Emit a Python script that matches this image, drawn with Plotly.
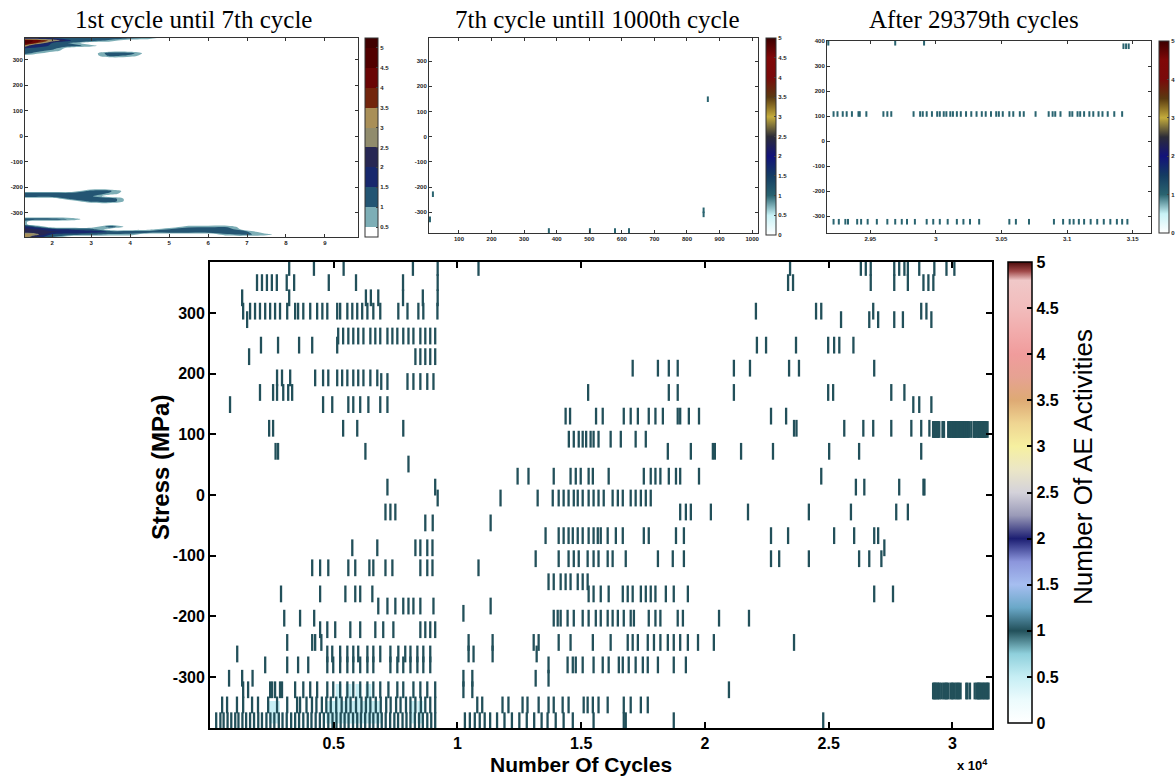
import plotly.graph_objects as go

W, H = 1176, 780

# ---------------- main chart: stress rows (MPa) and AE hit positions (thousand cycles) ----------------
main_stress = [375, 350, 325, 303, 289, 262, 247, 228, 209, 193, 187, 169, 149, 130, 110, 92, 72, 51, 31, 13,
               -5, -28, -46, -67, -87, -105, -120, -143, -163, -183, -195, -203, -222, -243, -262, -280,
               -302, -321, -346, -372]
main_cycles_k = [
    [3.2, 4.2, 5.4, 8.2, 9.2, 10.85, 23.44, 26.3, 26.5, 26.7, 27.65, 27.85, 28.06, 28.2, 28.66, 29.27, 29.76, 30.08],
    [1.9, 2.1, 2.3, 2.5, 2.7, 3.1, 3.4, 4.8, 5.9, 7.8, 9.2, 23.36, 23.56, 26.7, 27.65, 28.2, 28.83, 29.03, 29.23],
    [1.3, 3.2, 6.3, 6.5, 6.8, 7.8, 8.6, 9.2],
    [1.34, 1.62, 1.82, 2.02, 2.23, 2.43, 2.63, 2.83, 3.12, 3.44, 3.56, 3.77, 4.05, 4.33, 4.54, 4.74, 5.14, 5.26,
     5.55, 5.75, 5.95, 6.15, 6.36, 6.6, 6.88, 7.61, 7.98, 8.42, 8.62, 9.19, 22.06, 24.49, 24.7, 26.8, 28.74, 28.95],
    [1.5, 25.5, 26.64, 27.0, 27.65, 28.0, 29.15],
    [5.18, 5.38, 5.59, 5.79, 5.99, 6.2, 6.48, 6.68, 6.88, 7.17, 7.37, 7.57, 7.81, 8.02, 8.22, 8.5, 8.7, 8.9, 9.1],
    [2.06, 2.75, 3.6, 4.13, 5.14, 22.1, 22.47, 23.68, 24.98, 25.22, 25.43, 26.0],
    [1.58, 8.3, 8.5, 8.7, 8.9, 9.1],
    [17.08, 18.1, 18.54, 18.9, 21.17, 21.82, 23.4, 23.8, 26.84],
    [2.71, 2.91, 3.24, 4.25, 4.57, 4.78, 5.14, 5.34, 5.55, 5.79, 5.99, 6.2, 6.48, 6.76],
    [6.92, 7.17, 7.98, 8.22, 8.5, 8.78, 9.03],
    [2.02, 2.55, 2.71, 2.96, 3.16, 3.32, 15.28, 18.54, 18.9, 21.17, 24.98, 25.18, 27.53, 28.06],
    [0.81, 4.57, 4.94, 5.59, 5.79, 6.07, 6.4, 6.88, 7.17, 28.42, 28.66, 29.15],
    [14.37, 14.55, 15.6, 15.87, 16.72, 17.0, 17.29, 17.73, 18.0, 18.3, 18.9, 19.0, 19.35, 19.76, 22.67, 23.28],
    [2.39, 2.55, 5.38, 5.95, 7.81, 23.6, 23.7, 25.63, 26.4, 26.8, 27.53, 28.34, 28.74, 29.07],
    [14.5, 14.7, 14.9, 15.06, 15.2, 15.38, 15.5, 15.7, 16.19, 16.6, 17.2, 17.61],
    [2.65, 2.75, 6.28, 18.5, 19.43, 20.32, 20.4, 21.46, 22.75, 25.02, 26.23, 28.74],
    [8.02],
    [12.43, 12.87, 13.89, 14.57, 14.78, 14.98, 15.3, 15.47, 16.11, 17.53, 17.81, 18.0, 18.2, 18.54, 18.83, 19.0,
     19.76, 24.7],
    [7.17, 9.1, 26.1, 26.44, 27.85, 28.83, 28.87],
    [9.2, 11.74, 13.24, 13.85, 14.09, 14.29, 14.49, 14.7, 14.86, 15.06, 15.3, 15.5, 15.7, 15.91, 16.27, 16.48,
     16.68, 17.0, 17.2, 17.41, 17.61, 17.81],
    [7.09, 7.29, 7.49, 19.0, 19.23, 19.43, 20.24, 21.74, 24.2, 25.9, 27.73, 28.2],
    [8.7, 9.0, 11.34],
    [13.56, 14.09, 14.29, 14.49, 14.66, 14.86, 15.06, 15.3, 15.5, 15.67, 15.79, 16.07, 16.4, 16.68, 17.53, 17.73,
     18.83, 19.15, 22.67, 23.36, 25.22, 26.03, 26.84, 27.0],
    [5.75, 6.76, 8.3, 8.5, 8.78, 8.99, 27.25],
    [13.16, 14.09, 14.49, 14.7, 14.9, 15.26, 15.5, 15.7, 16.07, 16.27, 16.8, 18.1, 18.7, 19.15, 22.67, 23.0, 24.2,
     26.23, 26.64, 27.13],
    [4.13, 4.45, 4.78, 5.59, 5.87, 6.44, 6.6, 7.09, 7.37, 8.5, 8.78, 8.99, 10.85],
    [13.68, 13.89, 14.17, 14.37, 14.57, 14.86, 15.06, 15.26],
    [2.87, 4.45, 5.47, 5.87, 6.07, 6.56, 15.3, 15.5, 15.79, 16.11, 16.68, 16.88, 17.08, 17.41, 17.61, 17.81, 18.0,
     18.42, 18.74, 19.31, 26.84, 27.6],
    [6.8, 7.17, 7.49, 7.81, 8.02, 8.22, 8.5, 9.03, 11.34],
    [10.24],
    [3.0, 3.64, 4.21, 13.89, 14.05, 14.17, 14.45, 14.7, 15.06, 15.3, 15.59, 15.79, 16.07, 16.27, 16.48, 16.72,
     17.0, 17.13, 17.73, 18.0, 18.2, 18.9, 19.11, 20.57, 21.78],
    [4.45, 4.74, 5.06, 5.67, 6.07, 6.68, 7.0, 7.41, 8.5, 8.7, 8.9, 9.1],
    [3.12, 4.13, 4.25, 4.5, 10.45, 11.42, 13.08, 13.28, 14.09, 14.57, 15.47, 16.19, 16.88, 17.08, 17.29, 17.69,
     17.94, 18.2, 18.5, 18.74, 19.0, 19.31, 19.72, 20.36, 23.6],
    [1.1, 4.74, 4.94, 5.26, 5.55, 5.79, 5.99, 6.36, 6.6, 6.88, 7.29, 7.61, 7.89, 8.1, 8.38, 8.62, 8.9, 10.45,
     10.65, 11.42, 13.2],
    [2.23, 3.12, 3.56, 3.97, 4.74, 4.98, 5.26, 5.55, 5.79, 6.07, 6.36, 6.6, 7.29, 7.57, 7.81, 8.1, 8.38, 8.62,
     8.9, 13.68, 14.45, 14.66, 14.78, 15.06, 15.5, 15.87, 16.11, 16.52, 16.68, 16.92, 17.2, 17.49, 17.69, 18.1,
     18.74, 19.23],
    [0.77, 1.3, 1.72, 10.24, 10.6, 13.16, 13.68],
    [1.34, 1.54, 2.43, 2.51, 2.63, 2.83, 2.91, 3.44, 3.77, 4.05, 4.33, 4.74, 4.98, 5.26, 5.55, 5.79, 6.07, 6.36,
     6.6, 6.88, 7.21, 7.57, 7.81, 8.22, 8.5, 8.78, 9.1, 10.24, 10.6, 20.97],
    [0.49, 0.69, 1.09, 1.34, 1.7, 1.94, 2.35, 2.71, 3.12, 3.52, 3.64, 3.9, 4.12, 4.3, 4.52, 4.7, 4.88, 5.1, 5.32,
     5.5, 5.68, 5.9, 6.12, 6.3, 6.48, 6.7, 6.9, 7.12, 7.3, 7.52, 7.7, 7.92, 8.1, 8.3, 8.52, 8.7, 8.9, 9.1, 10.8,
     11.0, 11.82, 12.06, 12.63, 12.83, 13.28, 13.68, 13.89, 14.25, 14.49, 15.1, 15.26, 15.47, 15.7, 16.07, 16.72,
     17.0, 17.41, 17.69],
    [0.25, 0.42, 0.55, 0.71, 0.86, 1.02, 1.15, 1.31, 1.46, 1.62, 1.78, 1.95, 2.1, 2.28, 2.44, 2.6, 2.78, 2.93,
     3.1, 3.28, 3.44, 3.6, 3.77, 3.95, 4.1, 4.27, 4.44, 4.6, 4.78, 4.95, 5.11, 5.28, 5.44, 5.6, 5.78, 5.95, 6.1,
     6.27, 6.45, 6.6, 6.78, 6.94, 7.1, 7.28, 7.45, 7.6, 7.78, 7.94, 8.1, 8.28, 8.45, 8.6, 8.78, 8.94, 9.1, 10.3,
     10.5, 10.7, 10.9, 11.1, 11.32, 11.6, 11.9, 12.2, 12.5, 12.8, 13.1, 13.4, 13.64, 13.97, 14.29, 14.66, 15.5,
     16.72, 16.8, 18.74, 24.78],
]
main_count = 1.0

# light (low count) regions in the dense low-stress zone
glow_stress = [-330, -358]
glow_cycles_k = [
    [5.2, 5.6, 6.0, 6.4],
    [2.5, 2.7, 4.8, 5.0, 5.2, 5.4, 5.6, 5.8, 6.0, 6.2, 6.4, 6.6, 6.8, 8.2, 8.5],
]
glow_count = 0.5

# ---------------- top right: after 29379th cycles (x in 1e4 cycles) ----------------
tr_row_stress = [108, -323]
tr_row_cycles_e4 = [
    [2.922, 2.925, 2.929, 2.932, 2.936, 2.941, 2.942, 2.947, 2.960, 2.963, 2.966, 2.983, 2.988, 2.990, 2.993,
     2.997, 3.001, 3.003, 3.006, 3.008, 3.011, 3.013, 3.016, 3.019, 3.023, 3.027, 3.031, 3.035, 3.038, 3.042,
     3.046, 3.048, 3.051, 3.056, 3.059, 3.064, 3.067, 3.076, 3.086, 3.089, 3.091, 3.095, 3.102, 3.104, 3.108,
     3.110, 3.113, 3.117, 3.120, 3.124, 3.127, 3.131, 3.136, 3.142],
    [2.922, 2.926, 2.931, 2.933, 2.940, 2.943, 2.948, 2.955, 2.963, 2.969, 2.974, 2.978, 2.984, 2.993, 2.998,
     3.003, 3.009, 3.016, 3.021, 3.026, 3.033, 3.056, 3.061, 3.071, 3.090, 3.097, 3.102, 3.105, 3.109, 3.113,
     3.118, 3.123, 3.128, 3.133, 3.138, 3.142, 3.146],
]
tr_top_cycles_e4 = [2.918, 2.969, 2.991, 3.143, 3.145, 3.147]
tr_top_stress = [393, 393, 393, 379, 379, 379]

# ---------------- top middle: 7th until 1000th cycle ----------------
tm_cycles = [11, 20, 851, 851, 864, 376, 502, 579, 622]
tm_stress = [-328, -228, -292, -308, 149, -374, -374, -374, -374]

# ---------------- top left: 1st until 7th cycle (gridded AE counts) ----------------
tl_cycles = [1.3, 1.5, 2, 2.5, 3, 3.5, 4, 4.5, 5, 5.5, 6, 6.5, 7, 7.5, 8, 9, 9.85]
tl_stress = [-395, -385, -375, -365, -355, -345, -335, -325, -315, -265, -255, -245, -235, -225, -215, -205,
             305, 315, 325, 335, 345, 355, 365, 375, 385]
tl_cell_stress = ([385] * 8 + [375] * 6 + [365] * 4 + [355] * 5 + [345] * 3 + [335] * 3 + [325] * 4 + [315] * 2
                  + [-215] * 2 + [-225] * 6 + [-235] * 5 + [-245] * 3 + [-255] * 2
                  + [-325] * 4 + [-335] + [-345] + [-355] * 6 + [-365] * 10 + [-375] * 13 + [-385] * 10 + [-395] * 3)
tl_cell_cycles = [1.3, 1.5, 2, 2.5, 3, 3.5, 4, 4.5,
                  1.3, 1.5, 2, 2.5, 3, 3.5,
                  1.3, 1.5, 2, 2.5,
                  1.3, 1.5, 2, 2.5, 3,
                  1.3, 1.5, 2,
                  1.3, 1.5, 2,
                  1.3, 1.5, 3.5, 4,
                  3.5, 4,
                  3, 3.5,
                  1.3, 1.5, 2, 2.5, 3, 3.5,
                  1.3, 1.5, 2, 2.5, 3,
                  2.5, 3, 3.5,
                  3, 3.5,
                  1.3, 1.5, 2, 2.5,
                  1.3,
                  1.3,
                  1.3, 1.5, 3.5, 5.5, 6, 6.5,
                  1.3, 1.5, 2, 2.5, 3, 4.5, 5, 5.5, 6, 6.5,
                  1.3, 1.5, 2, 2.5, 3, 3.5, 4, 4.5, 5, 5.5, 6, 6.5, 7,
                  1.3, 1.5, 2, 2.5, 3, 3.5, 4, 6.5, 7, 7.5,
                  1.3, 1.5, 2]
tl_cell_count = [1.45, 1.45, 1.45, 1.45, 1.45, 1.4, 1.3, 0.8,
                 4.8, 4.6, 3.2, 1.45, 1.3, 0.8,
                 4.8, 4.2, 1.45, 0.9,
                 3.2, 1.7, 1.45, 1.3, 0.7,
                 1.45, 1.45, 1.3,
                 1.3, 1.3, 0.8,
                 1.3, 0.9, 1.45, 1.3,
                 1.2, 0.8,
                 1.3, 1.1,
                 1.45, 1.45, 1.45, 1.45, 1.45, 0.8,
                 1.45, 1.45, 1.45, 1.45, 1.1,
                 1.3, 1.45, 1.45,
                 1.3, 1.45,
                 1.45, 1.45, 1.3, 0.9,
                 0.7,
                 0.7,
                 1.7, 1.45, 1.45, 0.8, 0.9, 0.9,
                 2.2, 2.1, 1.7, 1.45, 1.3, 0.3, 1.0, 1.45, 1.45, 1.45,
                 2.1, 2.1, 2.1, 1.9, 1.7, 1.45, 1.45, 1.45, 1.45, 1.45, 1.45, 1.45, 1.1,
                 3.2, 3.0, 1.45, 1.3, 1.1, 0.9, 0.8, 0.9, 1.1, 0.7,
                 3.2, 2.1, 1.0]

cbar_ticks = [0, 0.5, 1, 1.5, 2, 2.5, 3, 3.5, 4, 4.5, 5]
cbar_labels = ["0", "0.5", "1", "1.5", "2", "2.5", "3", "3.5", "4", "4.5", "5"]
main_xticks = [5000, 10000, 15000, 20000, 25000, 30000]
main_xlabels = ["0.5", "1", "1.5", "2", "2.5", "3"]
stress_ticks = [-300, -200, -100, 0, 100, 200, 300]
stress_labels = ["-300", "-200", "-100", "0", "100", "200", "300"]

# ---------------- colour scales ----------------
main_scale = [[0, '#ffffff'], [0.05, '#ecfbfd'], [0.1, '#c6eef4'], [0.15, '#8fd0dc'], [0.2, '#22505a'],
              [0.25, '#6aa8c8'], [0.3, '#a6bef0'], [0.35, '#8c96dc'], [0.4, '#1c1e72'], [0.45, '#9a9ab8'],
              [0.5, '#d4d2da'], [0.55, '#ebe6c6'], [0.6, '#f6f0a0'], [0.65, '#efd592'], [0.7, '#deaa74'],
              [0.75, '#e6a292'], [0.8, '#f09c9c'], [0.85, '#f2acac'], [0.9, '#f2bcbc'], [0.96, '#f0c8c8'],
              [0.98, '#a04848'], [1, '#4a0a0a']]
top_scale = [[0, '#ffffff'], [0.1, '#c8f2f6'], [0.2, '#2a6470'], [0.3, '#143c62'], [0.4, '#12127a'],
             [0.5, '#2c2c38'], [0.6, '#c4ac3c'], [0.7, '#5a3a10'], [0.8, '#7a0a0a'], [0.9, '#800808'],
             [1, '#3c0000']]
tl_band_scale = [[0, '#ffffff'], [0.05, '#cdeef2'], [0.15, '#2c6e7a'], [0.25, '#1a3c6c'], [0.35, '#14146e'],
                 [0.45, '#3a3a3a'], [0.55, '#e8dea0'], [0.65, '#6a4010'], [0.75, '#7a0a0a'], [0.85, '#5a0000'],
                 [1, '#400000']]

# ---------------- figure ----------------
fig = go.Figure()

gx, gy = [], []
for s, row in zip(glow_stress, glow_cycles_k):
    for c in row:
        gx.append(c * 1000)
        gy.append(s)
fig.add_trace(go.Scatter(x=gx, y=gy, mode='markers', hoverinfo='skip', showlegend=False,
                         marker=dict(symbol='line-ns-open', size=16, line=dict(width=6),
                                     color=[glow_count] * len(gx), coloraxis='coloraxis')))

mx, my = [], []
for s, row in zip(main_stress, main_cycles_k):
    for c in row:
        mx.append(c * 1000)
        my.append(s)
for s, row in zip(tr_row_stress, tr_row_cycles_e4):
    for c in row:
        mx.append(c * 10000)
        my.append(s)
fig.add_trace(go.Scatter(x=mx, y=my, mode='markers', showlegend=False,
                         marker=dict(symbol='line-ns-open', size=12, line=dict(width=2.3),
                                     color=[main_count] * len(mx), coloraxis='coloraxis')))

tiny = dict(family='Liberation Sans', size=6, color='#222', weight='bold')

z = [[0.0] * len(tl_cycles) for _ in tl_stress]
for c, s, v in zip(tl_cell_cycles, tl_cell_stress, tl_cell_count):
    z[tl_stress.index(s)][tl_cycles.index(c)] = v
fig.add_trace(go.Contour(x=tl_cycles, y=tl_stress, z=z, xaxis='x2', yaxis='y2', autocontour=False,
                         contours=dict(start=0.5, end=5, size=0.5, coloring='fill', showlines=False),
                         line=dict(width=0), colorscale=tl_band_scale, hoverinfo='skip',
                         colorbar=dict(x=365 / W, xanchor='left', xpad=0, ypad=0, y=1 - 237 / H,
                                       yanchor='bottom', len=199 / H, thickness=13, outlinewidth=1,
                                       outlinecolor='#333', tickvals=cbar_ticks, ticktext=cbar_labels,
                                       ticks='inside', ticklen=2, tickfont=tiny)))

fig.add_trace(go.Scatter(x=tm_cycles, y=tm_stress, xaxis='x3', yaxis='y3', mode='markers', showlegend=False,
                         marker=dict(symbol='line-ns-open', size=4, line=dict(width=2),
                                     color=[main_count] * len(tm_cycles), coloraxis='coloraxis2')))

rx, ry = [], []
for s, row in zip(tr_row_stress, tr_row_cycles_e4):
    for c in row:
        rx.append(c)
        ry.append(s)
rx += tr_top_cycles_e4
ry += tr_top_stress
fig.add_trace(go.Scatter(x=rx, y=ry, xaxis='x4', yaxis='y4', mode='markers', showlegend=False,
                         marker=dict(symbol='line-ns-open', size=4, line=dict(width=2),
                                     color=[main_count] * len(rx), coloraxis='coloraxis3')))

bold15 = dict(family='Liberation Sans', size=16, color='black', weight='bold')


def small_axis(**kw):
    d = dict(showline=True, mirror='ticks', linecolor='#333', linewidth=1, ticks='inside', ticklen=3,
             tickcolor='#333', showgrid=False, zeroline=False, tickfont=tiny, fixedrange=True)
    d.update(kw)
    return d


def small_cbar(x, y0, y1, th, vals, labels):
    return dict(x=x / W, xanchor='left', xpad=0, ypad=0, y=1 - y1 / H, yanchor='bottom', len=(y1 - y0) / H,
                thickness=th, outlinewidth=1, outlinecolor='#333', tickvals=vals, ticktext=labels,
                ticks='inside', ticklen=2, tickfont=tiny)


fig.update_layout(
    width=W, height=H, margin=dict(l=0, r=0, t=0, b=0, autoexpand=False),
    paper_bgcolor='white', plot_bgcolor='white', showlegend=False,
    xaxis=dict(domain=[210 / W, 992 / W], range=[0, 31600], showline=True, mirror='ticks', linecolor='black',
               linewidth=1.8, ticks='inside', ticklen=6, tickwidth=1.5, tickcolor='black', showgrid=False,
               zeroline=False, tickvals=main_xticks, ticktext=main_xlabels, tickfont=bold15),
    yaxis=dict(domain=[1 - 728 / H, 1 - 262 / H], range=[-384, 384], showline=True, mirror='ticks',
               linecolor='black', linewidth=1.8, ticks='inside', ticklen=6, tickwidth=1.5, tickcolor='black',
               showgrid=False, zeroline=False, tickvals=stress_ticks, ticktext=stress_labels, tickfont=bold15),
    xaxis2=small_axis(domain=[25 / W, 358 / W], range=[1.3, 9.85], tickvals=[2, 3, 4, 5, 6, 7, 8, 9],
                      anchor='y2'),
    yaxis2=small_axis(domain=[1 - 237 / H, 1 - 38 / H], range=[-395, 385], tickvals=stress_ticks,
                      ticktext=stress_labels, anchor='x2'),
    xaxis3=small_axis(domain=[429 / W, 758 / W], range=[8, 1018],
                      tickvals=[100, 200, 300, 400, 500, 600, 700, 800, 900, 1000], anchor='y3'),
    yaxis3=small_axis(domain=[1 - 233 / H, 1 - 38 / H], range=[-382, 392], tickvals=stress_ticks,
                      ticktext=stress_labels, anchor='x3'),
    xaxis4=small_axis(domain=[827 / W, 1151 / W], range=[2.917, 3.164], tickvals=[2.95, 3, 3.05, 3.1, 3.15],
                      ticktext=["2.95", "3", "3.05", "3.1", "3.15"], anchor='y4'),
    yaxis4=small_axis(domain=[1 - 233 / H, 1 - 41 / H], range=[-368, 400],
                      tickvals=stress_ticks + [400], ticktext=stress_labels + ["400"], anchor='x4'),
    coloraxis=dict(cmin=0, cmax=5, colorscale=main_scale,
                   colorbar=dict(x=1008 / W, xanchor='left', xpad=0, ypad=0, y=1 - 723 / H, yanchor='bottom',
                                 len=(723 - 262) / H, thickness=24, outlinewidth=1.5, outlinecolor='black',
                                 tickvals=cbar_ticks, ticktext=cbar_labels,
                                 ticks='inside', ticklen=5, tickwidth=1.5, tickcolor='black', tickfont=bold15)),
    coloraxis2=dict(cmin=0, cmax=5, colorscale=top_scale,
                    colorbar=small_cbar(766, 38, 235, 10, cbar_ticks, cbar_labels)),
    coloraxis3=dict(cmin=0, cmax=5, colorscale=top_scale,
                    colorbar=small_cbar(1159, 41, 233, 10, [0, 1, 2, 3, 4, 5], ["0", "1", "2", "3", "4", "5"])),
)

serif = dict(family='Liberation Serif', size=25, color='black')
ann = [
    dict(text='1st cycle until 7th cycle', x=193, y=19, font=serif),
    dict(text='7th cycle untill 1000th cycle', x=597, y=19, font=serif),
    dict(text='After 29379th cycles', x=974, y=19, font=serif),
    dict(text='Stress (MPa)', x=160, y=468, textangle=-90,
         font=dict(family='Liberation Sans', size=24, color='black', weight='bold')),
    dict(text='Number Of Cycles', x=581, y=764,
         font=dict(family='Liberation Sans', size=21, color='black', weight='bold')),
    dict(text='x 10<sup>4</sup>', x=972, y=765,
         font=dict(family='Liberation Sans', size=13, color='black', weight='bold')),
    dict(text='Number Of AE Activities', x=1083, y=467, textangle=-90,
         font=dict(family='Liberation Sans', size=26, color='black')),
]
for a in ann:
    fig.add_annotation(xref='paper', yref='paper', x=a['x'] / W, y=1 - a['y'] / H, text=a['text'],
                       showarrow=False, xanchor='center', yanchor='middle', font=a['font'],
                       textangle=a.get('textangle', 0))

fig.write_html("out.html")
